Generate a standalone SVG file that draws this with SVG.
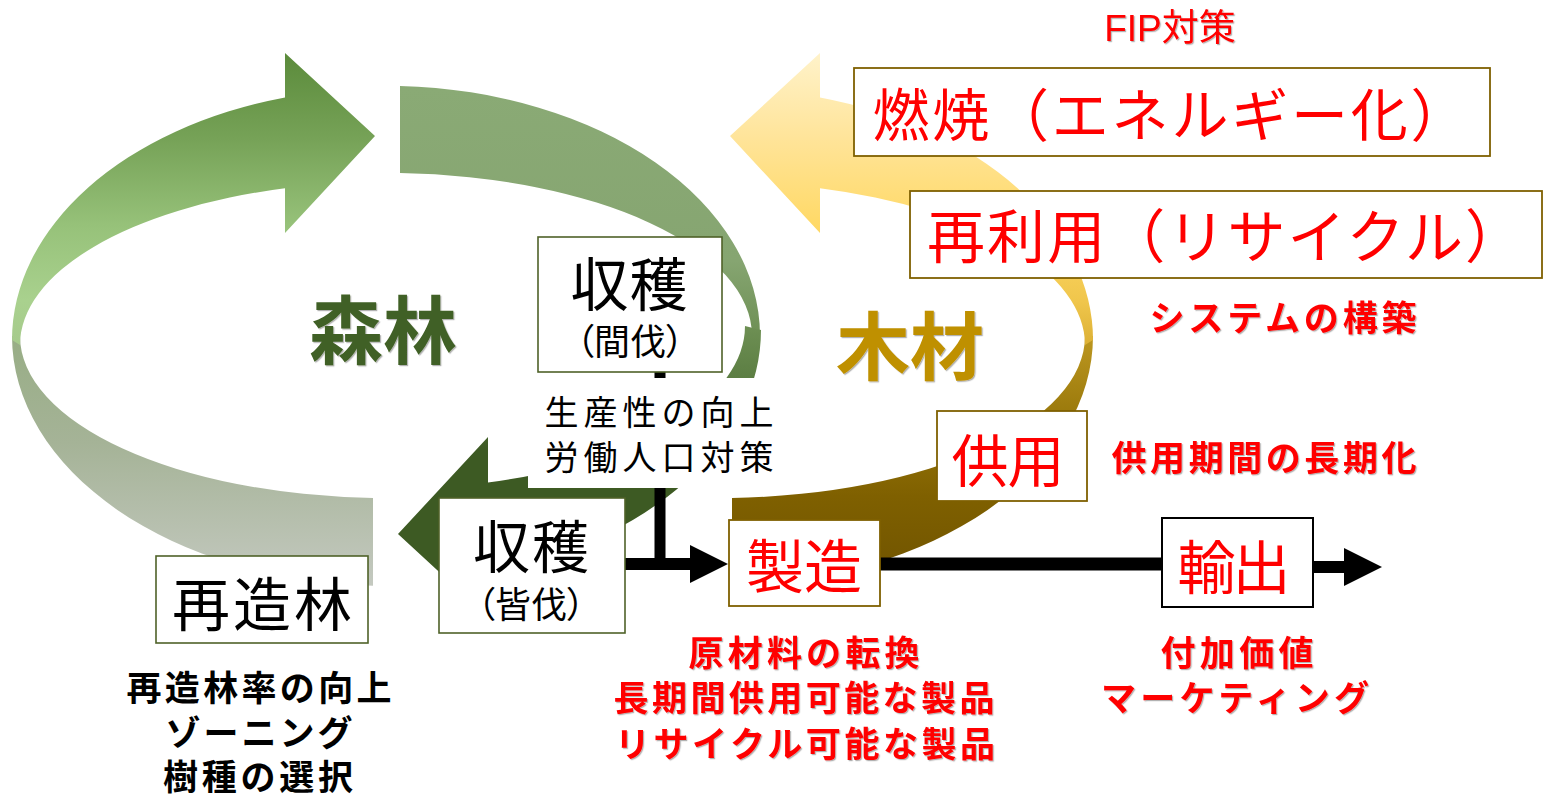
<svg xmlns="http://www.w3.org/2000/svg" width="1544" height="798" viewBox="0 0 1544 798">
<defs>
<style>
.jp{font-family:"Noto Sans CJK JP","Noto Sans CJK SC",sans-serif;}
.lat{font-family:"Liberation Sans","Noto Sans CJK JP",sans-serif;}
.bx-g{fill:#fff;stroke:#4f6228;stroke-width:1.6}
.bx-y{fill:#fff;stroke:#7f6000;stroke-width:1.8}
.bx-k{fill:#fff;stroke:#000;stroke-width:2}
.red{fill:#ff0000}
.blk{fill:#000}
.b{font-weight:700}
.palt{font-feature-settings:"palt" 1}
.conn{stroke:#000;fill:none}
.sh{filter:url(#sh)}
</style>
<linearGradient id="gUp" gradientUnits="userSpaceOnUse" x1="0" y1="50" x2="0" y2="345">
<stop offset="0" stop-color="#5a8a3a"/>
<stop offset="0.3" stop-color="#76a257"/>
<stop offset="0.6" stop-color="#97c27a"/>
<stop offset="0.85" stop-color="#a9d18e"/>
<stop offset="1" stop-color="#a6ca8c"/>
</linearGradient>
<linearGradient id="gGray" gradientUnits="userSpaceOnUse" x1="0" y1="300" x2="0" y2="586">
<stop offset="0" stop-color="#93ab7f"/>
<stop offset="0.5" stop-color="#a5b397"/>
<stop offset="1" stop-color="#c4c9c0"/>
</linearGradient>
<linearGradient id="gBackR" gradientUnits="userSpaceOnUse" x1="0" y1="86" x2="0" y2="336">
<stop offset="0" stop-color="#8aaa75"/>
<stop offset="0.7" stop-color="#86a571"/>
<stop offset="1" stop-color="#6d8f54"/>
</linearGradient>
<linearGradient id="gDark" gradientUnits="userSpaceOnUse" x1="0" y1="325" x2="0" y2="450">
<stop offset="0" stop-color="#6e9054"/>
<stop offset="0.4" stop-color="#5d7f44"/>
<stop offset="1" stop-color="#3d5a23"/>
</linearGradient>
<linearGradient id="yUp" gradientUnits="userSpaceOnUse" x1="0" y1="50" x2="0" y2="345">
<stop offset="0" stop-color="#fff3cc"/>
<stop offset="0.3" stop-color="#ffe499"/>
<stop offset="0.6" stop-color="#ffd966"/>
<stop offset="0.85" stop-color="#f0c64c"/>
<stop offset="1" stop-color="#dcb035"/>
</linearGradient>
<linearGradient id="yLow" gradientUnits="userSpaceOnUse" x1="0" y1="330" x2="0" y2="586">
<stop offset="0" stop-color="#c09a22"/>
<stop offset="0.35" stop-color="#98770a"/>
<stop offset="0.65" stop-color="#7f6000"/>
<stop offset="1" stop-color="#6f5300"/>
</linearGradient>
<marker id="ah" markerUnits="userSpaceOnUse" markerWidth="38" markerHeight="38" viewBox="0 0 38 38" refX="0" refY="19" orient="auto">
<path d="M0,0 L38,19 L0,38 Z" fill="#000"/>
</marker>
<filter id="sh" x="-5%" y="-10%" width="112%" height="130%">
<feDropShadow dx="1.2" dy="1.2" stdDeviation="0.5" flood-color="#000" flood-opacity="0.3"/>
</filter>
</defs>

<rect width="1544" height="798" fill="#fff"/>

<g id="cycle-forest">
<path d="M12 336 A374 250 0 0 0 373 585.8 L373 497.9 A366 162 0 0 1 20 336 Z" fill="url(#gGray)"/>
<path d="M400 86 A374 250 0 0 1 760 336 L752 336 A366 163 0 0 0 400 173 Z" fill="url(#gBackR)"/>
<path d="M12 340 A374 252 0 0 1 285 97.4 L285 53 L375 136 L285 233 L285 188.3 A366 163 0 0 0 20 345 Z" fill="url(#gUp)"/>
<path d="M761 330 A374 252 0 0 1 488 572.6 L488 617 L398 534 L488 437 L488 482.5 A358 163 0 0 0 745 326 Z" fill="url(#gDark)"/>
</g>

<g id="cycle-wood">
<path d="M1093 336 A374 250 0 0 1 732 585.8 L732 497.9 A366 162 0 0 0 1085 336 Z" fill="url(#yLow)"/>
<path d="M1093 340 A374 252 0 0 0 820 97.4 L820 53 L730 136 L820 233 L820 188.3 A366 163 0 0 1 1085 345 Z" fill="url(#yUp)"/>
</g>

<g id="connectors">
<path class="conn" stroke-width="11" d="M660 372 V570"/>
<path class="conn" stroke-width="12" d="M624 564 H690" marker-end="url(#ah)"/>
<path class="conn" stroke-width="13" d="M880 564 H1162"/>
<path class="conn" stroke-width="12" d="M1313 567 H1344" marker-end="url(#ah)"/>
</g>

<g id="label-forest">
<text class="jp b sh" x="383" y="358" font-size="74" text-anchor="middle" fill="#416126" textLength="148" lengthAdjust="spacing">森林</text>
</g>
<g id="label-wood">
<text class="jp b sh" x="910" y="374" font-size="74" text-anchor="middle" fill="#bf9000" textLength="148" lengthAdjust="spacing">木材</text>
</g>

<g id="node-kanbatsu">
<rect class="bx-g" x="538" y="237" width="184" height="135"/>
<text class="jp blk" x="629" y="306" font-size="58" text-anchor="middle" textLength="117" lengthAdjust="spacing">収穫</text>
<text class="jp blk palt" x="630" y="355" font-size="36" text-anchor="middle" textLength="108" lengthAdjust="spacing">（間伐）</text>
</g>

<g id="node-productivity">
<rect x="528" y="378" width="250" height="110" fill="#fff"/>
<text class="jp blk" x="659" y="425" font-size="34" text-anchor="middle" textLength="229" lengthAdjust="spacing">生産性の向上</text>
<text class="jp blk" x="659" y="470" font-size="34" text-anchor="middle" textLength="229" lengthAdjust="spacing">労働人口対策</text>
</g>

<g id="node-kaibatsu">
<rect class="bx-g" x="439" y="498" width="186" height="135"/>
<text class="jp blk" x="531" y="568" font-size="57" text-anchor="middle" textLength="116" lengthAdjust="spacing">収穫</text>
<text class="jp blk palt" x="531" y="618" font-size="36" text-anchor="middle" textLength="108" lengthAdjust="spacing">（皆伐）</text>
</g>

<g id="node-saizorin">
<rect class="bx-g" x="156" y="556" width="212" height="87"/>
<text class="jp blk" x="262" y="626" font-size="58" text-anchor="middle" textLength="180" lengthAdjust="spacing">再造林</text>
</g>
<g id="note-saizorin">
<text class="jp blk b" x="259" y="701" font-size="35" text-anchor="middle" textLength="265" lengthAdjust="spacing">再造林率の向上</text>
<text class="jp blk b" x="259" y="746" font-size="35" text-anchor="middle" textLength="187" lengthAdjust="spacing">ゾーニング</text>
<text class="jp blk b" x="258" y="790" font-size="35" text-anchor="middle" textLength="190" lengthAdjust="spacing">樹種の選択</text>
</g>

<g id="node-seizo">
<rect class="bx-y" x="729" y="520" width="151" height="86"/>
<text class="jp red" x="804" y="588" font-size="58" text-anchor="middle" textLength="116" lengthAdjust="spacing">製造</text>
</g>
<g id="note-seizo">
<text class="jp red b sh" x="804" y="666" font-size="35" text-anchor="middle" textLength="231" lengthAdjust="spacing">原材料の転換</text>
<text class="jp red b sh" x="804" y="711" font-size="35" text-anchor="middle" textLength="381" lengthAdjust="spacing">長期間供用可能な製品</text>
<text class="jp red b sh" x="805" y="757" font-size="35" text-anchor="middle" textLength="380" lengthAdjust="spacing">リサイクル可能な製品</text>
</g>

<g id="node-kyoyo">
<rect class="bx-y" x="937" y="411" width="150" height="90"/>
<text class="jp red" x="1008" y="482" font-size="57" text-anchor="middle" textLength="113" lengthAdjust="spacing">供用</text>
</g>
<g id="note-kyoyo">
<text class="jp red b sh" x="1264" y="471" font-size="35" text-anchor="middle" textLength="305" lengthAdjust="spacing">供用期間の長期化</text>
</g>

<g id="node-nensho">
<rect class="bx-y" x="854" y="68" width="636" height="88"/>
<text class="jp red" x="1170" y="136" font-size="57" text-anchor="middle" textLength="595" lengthAdjust="spacing">燃焼（エネルギー化）</text>
</g>
<g id="note-fip">
<text class="lat red sh" x="1170" y="41" font-size="37" text-anchor="middle">FIP対策</text>
</g>

<g id="node-sairiyo">
<rect class="bx-y" x="910" y="191" width="632" height="87"/>
<text class="jp red" x="1225" y="258" font-size="58" text-anchor="middle" textLength="596" lengthAdjust="spacing">再利用（リサイクル）</text>
</g>
<g id="note-system">
<text class="jp red b sh" x="1283" y="331" font-size="35" text-anchor="middle" textLength="267" lengthAdjust="spacing">システムの構築</text>
</g>

<g id="node-yushutsu">
<rect class="bx-k" x="1162" y="518" width="151" height="89"/>
<text class="jp red" x="1234" y="589" font-size="58" text-anchor="middle" textLength="113" lengthAdjust="spacing">輸出</text>
</g>
<g id="note-yushutsu">
<text class="jp red b sh" x="1237" y="666" font-size="35" text-anchor="middle" textLength="153" lengthAdjust="spacing">付加価値</text>
<text class="jp red b sh" x="1235" y="711" font-size="35" text-anchor="middle" textLength="268" lengthAdjust="spacing">マーケティング</text>
</g>
</svg>
